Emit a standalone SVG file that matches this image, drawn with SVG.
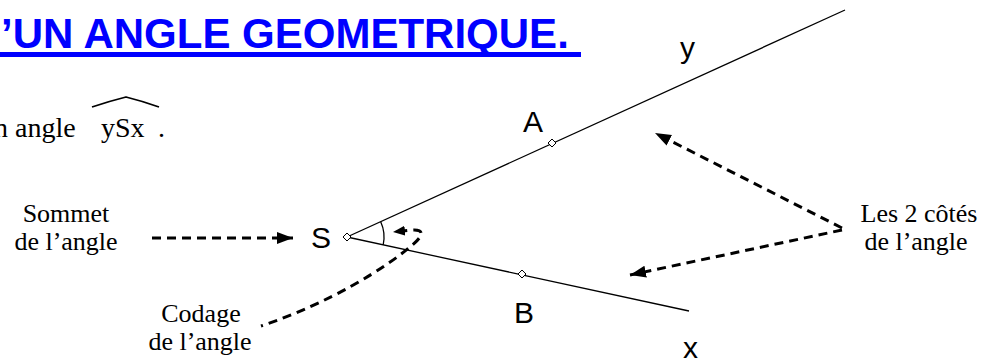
<svg xmlns="http://www.w3.org/2000/svg" width="993" height="363" viewBox="0 0 993 363">
<style>
.serif{font-family:"Liberation Serif","Times New Roman",serif;font-size:26px;fill:#000}
.lbl{font-family:"Liberation Sans",Arial,sans-serif;font-size:30px;fill:#000}
.title{font-family:"Liberation Sans",Arial,sans-serif;font-size:42px;font-weight:bold;fill:#0000FF}
.ray{stroke:#000;stroke-width:1.3;fill:none}
.pt{fill:#fff;stroke:#000;stroke-width:1}
.dash{stroke:#000;stroke-width:3;fill:none;stroke-dasharray:9 6}
</style>
<defs>
<marker id="ah" markerUnits="userSpaceOnUse" markerWidth="18" markerHeight="14" refX="16" refY="6" orient="auto">
<path d="M0,0 L16,6 L0,12 Z" fill="#000"/>
</marker>
<marker id="ahs" markerUnits="userSpaceOnUse" markerWidth="14" markerHeight="12" refX="12" refY="5" orient="auto">
<path d="M0,0 L12,5 L0,10 Z" fill="#000"/>
</marker>
</defs>
<rect width="993" height="363" fill="#fff"/>
<g id="title">
<text class="title" x="1" y="48">’UN ANGLE GEOMETRIQUE.</text>
<rect x="0" y="52" width="581" height="5" fill="#0000FF"/>
</g>
<g id="intro">
<text class="serif" style="font-size:28px" x="-6" y="137">n angle</text>
<text class="serif" style="font-size:28px" x="101" y="137">ySx</text>
<text class="serif" style="font-size:28px" x="158" y="137">.</text>
<path d="M92,107 Q110,101 126,97 Q142,101 159,107" stroke="#000" stroke-width="1.8" fill="none"/>
</g>
<g id="figure">
<line class="ray" x1="347" y1="237" x2="845" y2="10"/>
<line class="ray" x1="347" y1="237" x2="689" y2="311"/>
<path class="ray" d="M380.7,221.7 A37,37 0 0 1 383.2,244.8" stroke-width="1"/>
</g>
<g id="S">
<path class="pt" d="M343,237 L347,233 L351,237 L347,241 Z"/>
<text class="lbl" x="311" y="248">S</text>
</g>
<g id="A">
<path class="pt" d="M548,143 L552,139 L556,143 L552,147 Z"/>
<text class="lbl" x="523" y="132">A</text>
</g>
<g id="B">
<path class="pt" d="M518,274 L522,270 L526,274 L522,278 Z"/>
<text class="lbl" x="514" y="323">B</text>
</g>
<g id="y"><text class="lbl" x="680" y="58">y</text></g>
<g id="x"><text class="lbl" x="683" y="358">x</text></g>
<g id="sommet">
<text class="serif" x="66" y="222" text-anchor="middle">Sommet</text>
<text class="serif" x="66" y="250" text-anchor="middle">de l’angle</text>
</g>
<g id="codage">
<text class="serif" x="201" y="322" text-anchor="middle">Codage</text>
<text class="serif" x="200" y="350" text-anchor="middle">de l’angle</text>
</g>
<g id="cotes">
<text class="serif" x="919" y="222" text-anchor="middle">Les 2 côtés</text>
<text class="serif" x="916" y="250" text-anchor="middle">de l’angle</text>
</g>
<g id="connectors">
<line class="dash" x1="152" y1="238" x2="293" y2="238" marker-end="url(#ah)"/>
<line class="dash" x1="842" y1="228" x2="655" y2="133" marker-end="url(#ah)"/>
<line class="dash" x1="842" y1="230" x2="630" y2="275" marker-end="url(#ah)"/>
<path class="dash" style="stroke-dashoffset:7" d="M261,326 C330,303 385,268 410,247 C424,236 425,229 412,230 L393,232" marker-end="url(#ahs)"/>
</g>
</svg>
